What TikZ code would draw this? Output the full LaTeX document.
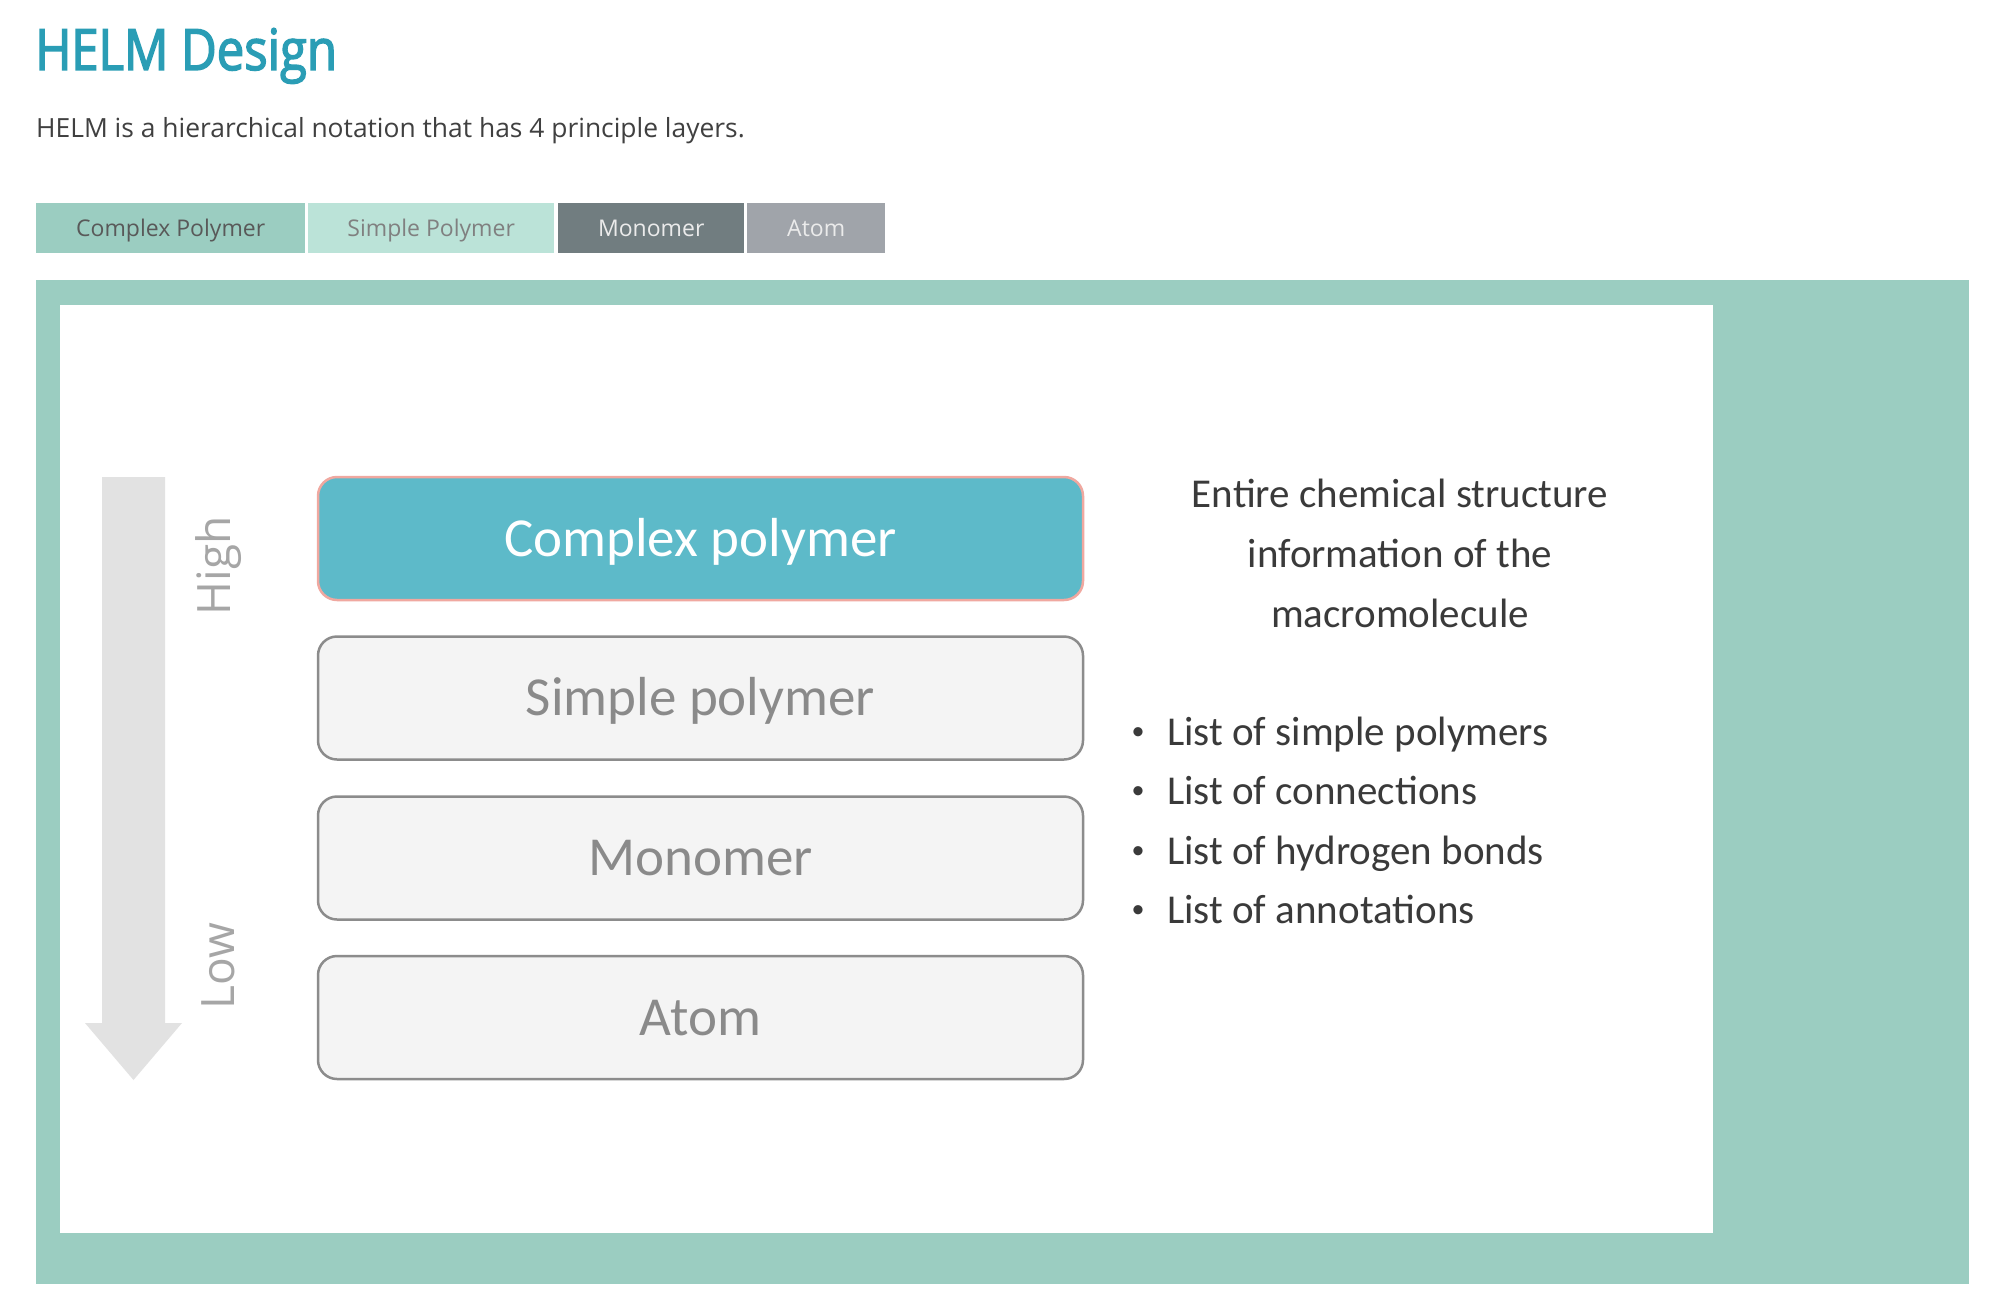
\documentclass[tikz,border=0pt]{standalone}
\usepackage{fontspec}
\setmainfont{Carlito}
\newfontfamily\opensans{Open Sans}
\newfontfamily\opensanstitle[FakeStretch=0.86,FakeBold=2.5]{Open Sans}
\definecolor{panelgreen}{HTML}{9BCDC1}
\definecolor{titleteal}{HTML}{2A9DB5}
\definecolor{subgray}{HTML}{404040}
\definecolor{tabA}{HTML}{9BCDC1}
\definecolor{tabB}{HTML}{BBE3D8}
\definecolor{tabC}{HTML}{717D80}
\definecolor{tabD}{HTML}{A0A4AA}
\definecolor{cpfill}{HTML}{5DBAC9}
\definecolor{cpborder}{HTML}{F0A8A0}
\definecolor{boxfill}{HTML}{F4F4F4}
\definecolor{boxborder}{HTML}{8C8C8C}
\definecolor{boxtext}{HTML}{8A8A8A}
\definecolor{arrowgray}{HTML}{E2E2E2}
\definecolor{hlgray}{HTML}{A6A6A6}
\definecolor{righttext}{HTML}{3A3A3A}
\begin{document}
\begin{tikzpicture}[x=1pt,y=-1pt,
  tabbox/.style={inner sep=0pt, anchor=north west, text height=16.5pt, text depth=0pt, font=\opensans\fontsize{23}{26}\selectfont},
  layerbox/.style={rounded corners=19pt, line width=2.5pt, draw=boxborder, fill=boxfill, text=boxtext,
    minimum width=765pt, minimum height=123pt, inner sep=0pt, text height=35pt, text depth=0pt,
    font=\fontsize{55}{60}\selectfont},
  sidetext/.style={text=righttext, font=\fontsize{41}{60}\selectfont},
  listitem/.style={sidetext, anchor=base west, inner sep=0pt},
  bul/.style={text=righttext, inner sep=0pt, anchor=base, font=\fontsize{26}{26}\selectfont},
  hltext/.style={text=hlgray, rotate=90, font=\opensans\fontsize{46}{50}\selectfont}]
\useasboundingbox (0,0) rectangle (1993,1298);
\fill[white] (0,0) rectangle (1993,1298);
% title
\node[anchor=base west, inner sep=0pt, text=titleteal, font=\opensanstitle\fontsize{57}{64}\selectfont] (title) at (35,70) {HELM Design};
\node[anchor=base west, inner sep=0pt, text=subgray, font=\opensans\fontsize{26.4}{30}\selectfont] (sub) at (36,137) {HELM is a hierarchical notation that has 4 principle layers.};
% tabs
\node[tabbox, fill=tabA, text=black!65, minimum width=269pt, minimum height=50pt] (t1) at (36,203) {Complex Polymer};
\node[tabbox, fill=tabB, text=black!50, minimum width=246pt, minimum height=50pt] (t2) at (308,203) {Simple Polymer};
\node[tabbox, fill=tabC, text=white!92!black, minimum width=186pt, minimum height=50pt] (t3) at (558,203) {Monomer};
\node[tabbox, fill=tabD, text=white!92!black, minimum width=138pt, minimum height=50pt] (t4) at (747,203) {Atom};
% panel
\fill[panelgreen] (36,280) rectangle (1969,1284);
\fill[white] (60,305) rectangle (1713,1233);
% arrow
\fill[arrowgray] (102,477) -- (165,477) -- (165,1023) -- (182,1023) -- (133.5,1080) -- (85,1023) -- (102,1023) -- cycle;
\node[hltext] (high) at (219,566) {High};
\node[hltext] (low) at (218,966) {Low};
% layer boxes
\node[layerbox, fill=cpfill, draw=cpborder, text=white] (cp) at (700.5,538.5) {Complex polymer};
\node[layerbox] (sp) at (700.5,698) {Simple polymer};
\node[layerbox] (mo) at (700.5,858) {Monomer};
\node[layerbox] (at) at (700.5,1017.5) {Atom};
% right description
\node[sidetext, align=center, anchor=center] (desc) at (1400,553) {Entire chemical structure\\information of the\\macromolecule};
\node[listitem] (b1) at (1167,745) {List of simple polymers};
\node[listitem] (b2) at (1167,804.5) {List of connections};
\node[listitem] (b3) at (1167,864) {List of hydrogen bonds};
\node[listitem] (b4) at (1167,923.5) {List of annotations};
\node[bul] (d1) at (1138,739) {\textbullet};
\node[bul] (d2) at (1138,798.5) {\textbullet};
\node[bul] (d3) at (1138,858) {\textbullet};
\node[bul] (d4) at (1138,917.5) {\textbullet};
\end{tikzpicture}
\end{document}
